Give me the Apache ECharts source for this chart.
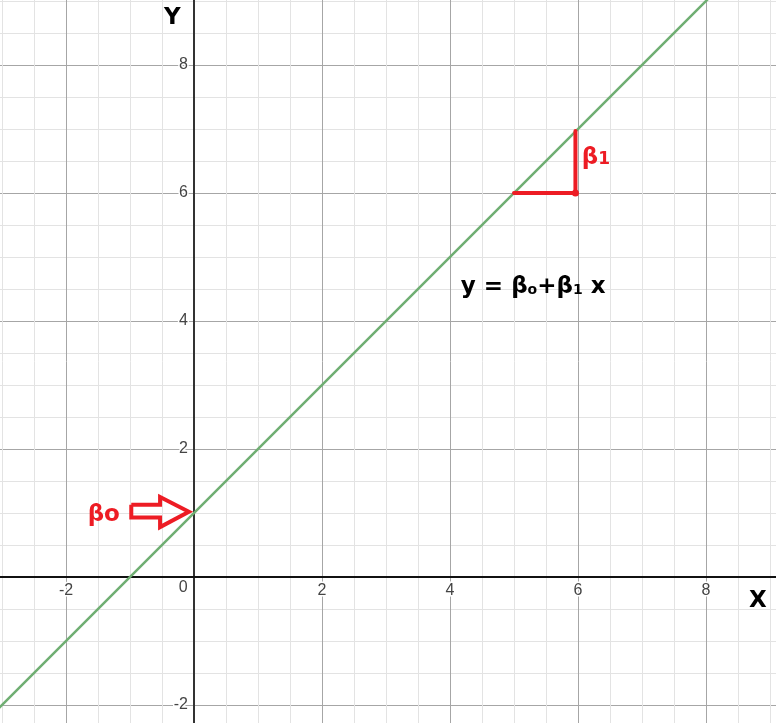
<!DOCTYPE html>
<html>
<head>
<meta charset="utf-8">
<script src="https://cdn.jsdelivr.net/npm/echarts@6/dist/echarts.min.js"></script>
<style>html,body{margin:0;padding:0;background:#fff}#c{width:776px;height:723px}</style>
</head>
<body>
<div id="c"></div>
<script>
// Regression line y = b0 + b1*x (b0 = 1, b1 = 1), endpoints
const lineX = [-4, 10];
const lineY = [-3, 11];
// Slope triangle (red)
const slopeX = [5, 5.96, 5.96];
const slopeY = [6, 6, 6.97];
// Intercept arrow outline (red)
const arrowX = [-0.98, -0.53, -0.53, -0.08, -0.53, -0.53, -0.98, -0.98];
const arrowY = [1.13, 1.13, 1.25, 1.02, 0.78, 0.93, 0.93, 1.13];
// Axis tick labels
const tickValues = [-2, 2, 4, 6, 8];
// Annotation anchors
const labelB0 = [-1.41, 0.97];
const labelB1 = [6.28, 6.55];
const labelEq = [5.30, 4.53];
const labelX = [8.81, -0.37];
const labelY = [-0.34, 8.73];
const labelZero = [-0.17, -0.16];

const RED = '#ed1c24';
const FONT = '"Liberation Sans", Arial, sans-serif';
const BFONT = '"DejaVu Sans", Verdana, sans-serif';

const chart = echarts.init(document.getElementById('c'), null, {renderer: 'canvas'});

function zip(xs, ys) { return xs.map((x, i) => [x, ys[i]]); }

function axisCfg(color, offset) {
  return {
    type: 'value', min: -4, max: 10, interval: 2, offset: offset,
    axisLine: {show: true, onZero: false, lineStyle: {color: color, width: 2}},
    axisTick: {show: false},
    minorTick: {show: false, splitNumber: 4},
    splitLine: {show: true, lineStyle: {color: '#a6a6a6', width: 1}},
    minorSplitLine: {show: true, lineStyle: {color: '#e3e3e3', width: 1}},
    axisLabel: {
      show: true, fontSize: 16, color: '#444', fontFamily: FONT, margin: 6,
      textBorderColor: '#fff', textBorderWidth: 3,
      formatter: v => tickValues.indexOf(v) >= 0 ? String(v) : ''
    }
  };
}

function textPoint(pos, label) {
  return {type: 'scatter', symbolSize: 0, silent: true, z: 10,
    itemStyle: {opacity: 1},
    data: [{value: pos}],
    label: Object.assign({show: true, position: 'inside', fontFamily: BFONT, opacity: 1,
      textBorderWidth: 0, textBorderColor: 'transparent', textShadowBlur: 0}, label)};
}

const noBorder = {textBorderWidth: 0, textBorderColor: 'transparent'};

chart.setOption({
  animation: false,
  backgroundColor: '#fff',
  grid: {left: -62, right: -58, top: -63, bottom: -110, containLabel: false, outerBoundsMode: 'none'},
  xAxis: Object.assign(axisCfg('#111', -256), {position: 'bottom'}),
  yAxis: Object.assign(axisCfg('#333', -256), {position: 'left'}),
  series: [
    {type: 'line', data: zip(lineX, lineY), symbol: 'none', silent: true,
      lineStyle: {color: '#6fae72', width: 2.5}, z: 3},
    {type: 'line', data: zip(slopeX, slopeY), symbol: 'none', silent: true,
      lineStyle: {color: RED, width: 4, cap: 'round', join: 'round'}, z: 4},
    {type: 'scatter', data: [[slopeX[1], slopeY[1]]], symbolSize: 7, silent: true,
      itemStyle: {color: RED, opacity: 1}, z: 5},
    {type: 'line', data: zip(arrowX, arrowY), symbol: 'none', silent: true,
      lineStyle: {color: RED, width: 4, join: 'miter'}, z: 4},
    textPoint(labelB0, {formatter: 'βo', fontSize: 23, fontWeight: 'bold', color: RED}),
    textPoint(labelB1, {formatter: '{b|β}{s|1}', rich: {
      b: Object.assign({fontSize: 23, fontWeight: 'bold', color: RED, fontFamily: BFONT}, noBorder),
      s: Object.assign({fontSize: 17, fontWeight: 'bold', color: RED, fontFamily: BFONT, padding: [4, 0, 0, 0]}, noBorder)
    }}),
    textPoint(labelEq, {formatter: '{b|y = β}{s|o}{b|+β}{s|1}{b| x}', rich: {
      b: Object.assign({fontSize: 23, fontWeight: 'bold', color: '#000', fontFamily: BFONT}, noBorder),
      s: Object.assign({fontSize: 14, fontWeight: 'bold', color: '#000', fontFamily: BFONT, padding: [6, 0, 0, 0]}, noBorder)
    }}),
    textPoint(labelX, {formatter: 'X', fontSize: 23, fontWeight: 'bold', color: '#000'}),
    textPoint(labelY, {formatter: 'Y', fontSize: 23, fontWeight: 'bold', color: '#000'}),
    textPoint(labelZero, {formatter: '0', fontSize: 16, color: '#444', fontFamily: FONT,
      textBorderColor: '#fff', textBorderWidth: 3})
  ]
});
</script>
</body>
</html>
